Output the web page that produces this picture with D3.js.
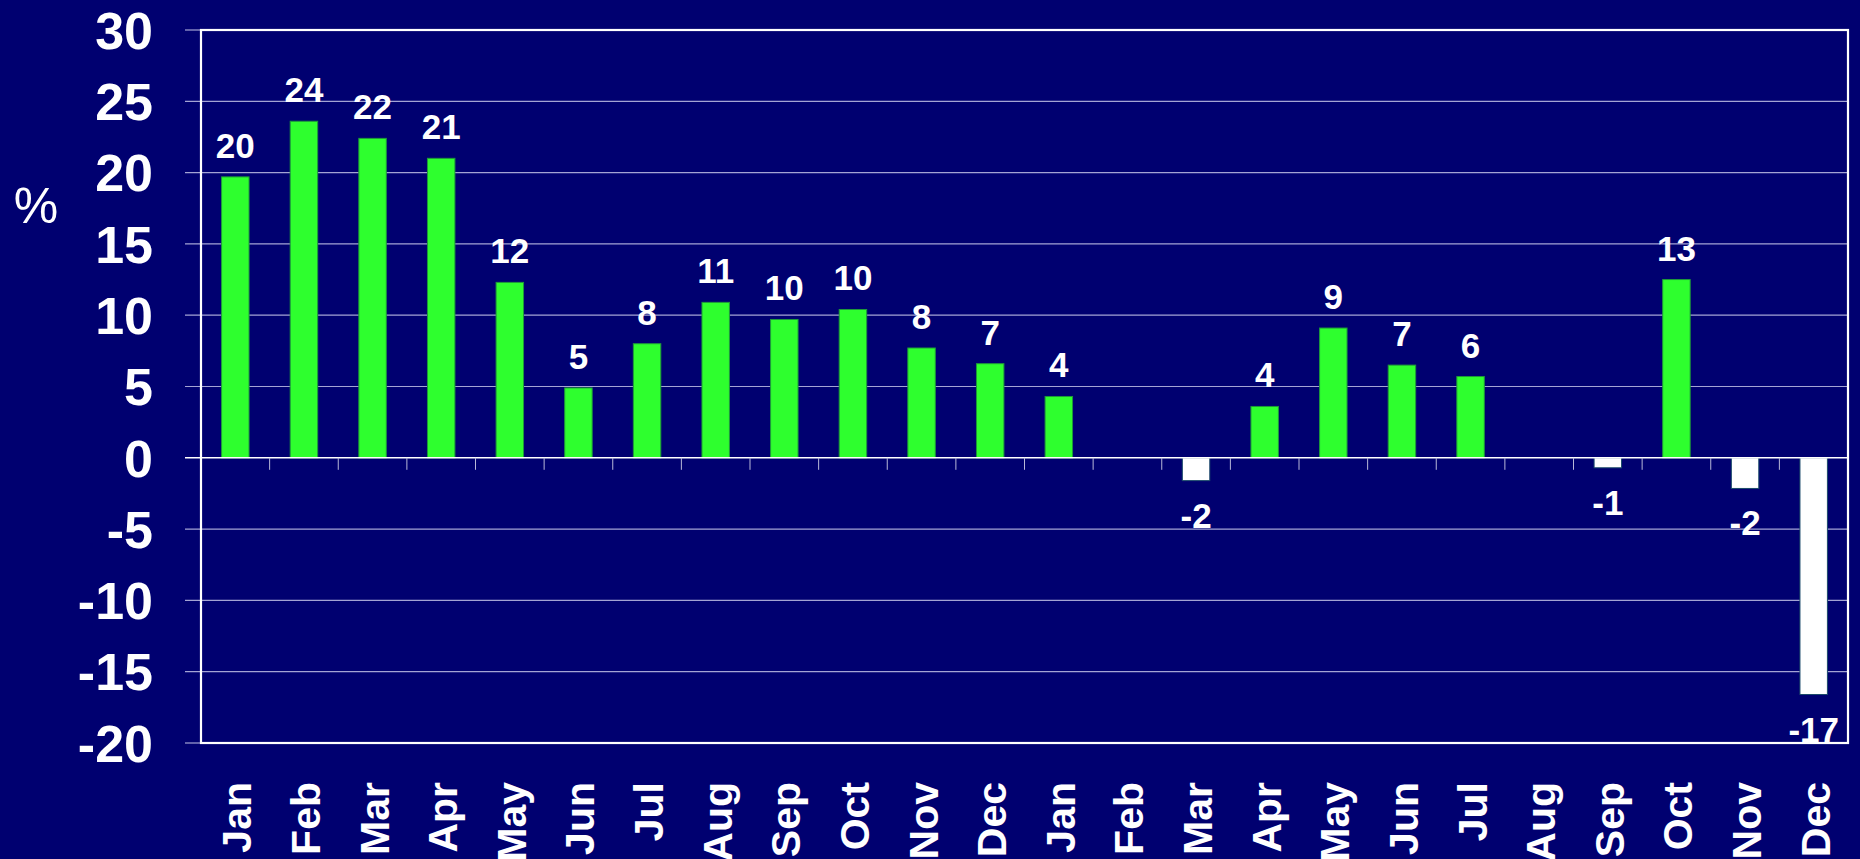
<!DOCTYPE html>
<html>
<head>
<meta charset="utf-8">
<script src="https://cdn.jsdelivr.net/npm/d3@7"></script>
<style>
    html, body { margin: 0; padding: 0; background: #000070; }
    svg { display: block; }
    text { font-family: "Liberation Sans", Arial, sans-serif; fill: #ffffff; }
</style>
</head>
<body>
<div id="chart"></div>
<script>
const months = ["Jan", "Feb", "Mar", "Apr", "May", "Jun", "Jul", "Aug", "Sep", "Oct", "Nov", "Dec",
                "Jan", "Feb", "Mar", "Apr", "May", "Jun", "Jul", "Aug", "Sep", "Oct", "Nov", "Dec"];
const values = [19.7, 23.6, 22.4, 21.0, 12.3, 4.9, 8.0, 10.9, 9.7, 10.4, 7.7, 6.6,
                4.3, null, -1.6, 3.6, 9.1, 6.5, 5.7, null, -0.7, 12.5, -2.15, -16.6];
const yTicks = [30, 25, 20, 15, 10, 5, 0, -5, -10, -15, -20];

const margin = { top: 30, right: 12, bottom: 116, left: 201 },
      width = 1860 - margin.left - margin.right,
      height = 859 - margin.top - margin.bottom;

const svg = d3.select("#chart")
    .append("svg")
    .attr("width", 1860)
    .attr("height", 859);

const g = svg.append("g")
    .attr("transform", `translate(${margin.left},${margin.top})`);

const data = months.map((m, i) => ({ i, month: m, value: values[i] }));

const x = d3.scaleBand()
    .domain(data.map(d => d.i))
    .range([0, width])
    .padding(0);

const y = d3.scaleLinear()
    .domain([-20, 30])
    .range([height, 0]);

// gridlines (with the little stubs to the left of the frame)
g.selectAll(".grid")
    .data(yTicks.filter(t => t !== 0 && t !== 30 && t !== -20))
    .join("line")
    .attr("class", "grid")
    .attr("x1", -16)
    .attr("x2", width)
    .attr("y1", d => y(d))
    .attr("y2", d => y(d))
    .attr("stroke", "#a4a4d4")
    .attr("stroke-width", 1.2);

g.selectAll(".stub")
    .data([30, -20])
    .join("line")
    .attr("class", "stub")
    .attr("x1", -16)
    .attr("x2", 0)
    .attr("y1", d => y(d))
    .attr("y2", d => y(d))
    .attr("stroke", "#a4a4d4")
    .attr("stroke-width", 1.2);

// y tick labels
g.append("g")
    .selectAll("text")
    .data(yTicks)
    .join("text")
    .attr("x", -48)
    .attr("y", d => y(d))
    .attr("dy", "0.36em")
    .attr("text-anchor", "end")
    .style("font-size", "52px")
    .style("font-weight", "bold")
    .text(d => String(d));

// "%" label
svg.append("text")
    .attr("x", 36)
    .attr("y", 223)
    .attr("text-anchor", "middle")
    .style("font-size", "50px")
    .text("%");

// bars
g.selectAll(".bar")
    .data(data.filter(d => d.value !== null))
    .join("rect")
    .attr("class", "bar")
    .attr("x", d => x(d.i) + x.bandwidth() * 0.3)
    .attr("width", x.bandwidth() * 0.4)
    .attr("y", d => y(Math.max(0, d.value)))
    .attr("height", d => Math.abs(y(d.value) - y(0)))
    .attr("fill", d => d.value >= 0 ? "#2eff2e" : "#ffffff")
    .attr("stroke", d => d.value >= 0 ? "#1f9a3a" : "#1b4a6a")
    .attr("stroke-width", 1);

// zero line
g.append("line")
    .attr("x1", -16)
    .attr("x2", width)
    .attr("y1", y(0))
    .attr("y2", y(0))
    .attr("stroke", "#ffffff")
    .attr("stroke-width", 1.6);

// category tick marks below the zero line
g.selectAll(".xtick")
    .data(d3.range(1, months.length))
    .join("line")
    .attr("class", "xtick")
    .attr("x1", d => d * x.step())
    .attr("x2", d => d * x.step())
    .attr("y1", y(0))
    .attr("y2", y(0) + 12)
    .attr("stroke", "#b8b8d8")
    .attr("stroke-width", 1);

// plot frame
g.append("rect")
    .attr("x", 0)
    .attr("y", 0)
    .attr("width", width)
    .attr("height", height)
    .attr("fill", "none")
    .attr("stroke", "#ffffff")
    .attr("stroke-width", 2.2);

// value labels
g.selectAll(".label")
    .data(data.filter(d => d.value !== null))
    .join("text")
    .attr("class", "label")
    .attr("x", d => x(d.i) + x.bandwidth() / 2)
    .attr("y", d => d.value >= 0 ? y(d.value) - 19 : y(d.value) + 47)
    .attr("text-anchor", "middle")
    .style("font-size", "35px")
    .style("font-weight", "bold")
    .text(d => String(Math.round(d.value)));

// month labels, rotated
g.selectAll(".month")
    .data(data)
    .join("text")
    .attr("class", "month")
    .attr("transform", d => `translate(${x(d.i) + x.bandwidth() / 2 + 16},${782 - margin.top}) rotate(-90)`)
    .attr("text-anchor", "end")
    .style("font-size", "41px")
    .style("font-weight", "bold")
    .text(d => d.month);
</script>
</body>
</html>
